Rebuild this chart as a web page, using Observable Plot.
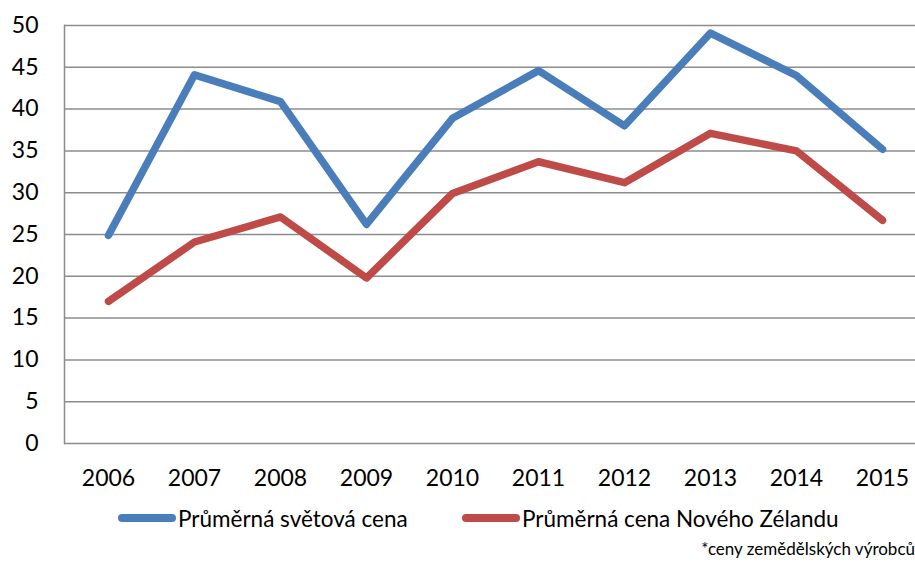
<!DOCTYPE html>
<html>
<head>
<meta charset="utf-8">
<script src="https://cdn.jsdelivr.net/npm/d3@7"></script>
<script src="https://cdn.jsdelivr.net/npm/@observablehq/plot@0.6"></script>
<style>
  html, body { margin: 0; padding: 0; background: #fff; }
  body { width: 915px; height: 568px; position: relative; overflow: hidden; font-family: Lato, "Open Sans", sans-serif; }
  #chart { position: absolute; left: 0; top: 0; }
  .legend { position: absolute; left: 0; top: 503px; width: 915px; height: 30px; font-size: 22.5px; color: #000; }
  .item { position: absolute; top: 0; display: flex; align-items: center; height: 30px; }
  .swatch { width: 58px; height: 8px; border-radius: 4px; margin-right: 2px; }
  .caption { position: absolute; right: 0; top: 537px; font-size: 17px; line-height: 24px; color: #000; }
</style>
</head>
<body>
<div id="chart"></div>
<div class="legend" id="legend"></div>
<div class="caption" id="caption"></div>
<script>
const years = ["2006","2007","2008","2009","2010","2011","2012","2013","2014","2015"];
const worldPrice = [24.9, 44.1, 40.9, 26.2, 38.9, 44.6, 38.0, 49.1, 44.0, 35.2];
const nzPrice = [17.0, 24.1, 27.1, 19.8, 29.9, 33.7, 31.2, 37.1, 35.0, 26.7];
const seriesNames = ["Průměrná světová cena", "Průměrná cena Nového Zélandu"];
const seriesColors = ["#4a7ebb", "#be4b48"];
const yTicks = [0, 5, 10, 15, 20, 25, 30, 35, 40, 45, 50];
const captionText = "*ceny zemědělských výrobců";

const rows = [];
years.forEach((y, i) => {
  rows.push({year: y, value: worldPrice[i], series: seriesNames[0]});
  rows.push({year: y, value: nzPrice[i], series: seriesNames[1]});
});

const chart = Plot.plot({
  width: 915,
  height: 500,
  marginLeft: 64,
  marginRight: 0,
  marginTop: 25,
  marginBottom: 57,
  style: {fontFamily: "Lato, 'Open Sans', sans-serif", fontSize: "23px", color: "#000", background: "#fff"},
  x: {type: "point", domain: years, range: [107, 883], padding: 0},
  y: {domain: [0, 50]},
  color: {domain: seriesNames, range: seriesColors},
  marks: [
    Plot.ruleY(yTicks, {stroke: "#8c8c8c", strokeWidth: 1.5}),
    Plot.frame({anchor: "left", stroke: "#8c8c8c", strokeWidth: 1.5}),
    Plot.axisY(yTicks, {tickSize: 0, tickPadding: 26, fontSize: 23, label: null}),
    Plot.axisX({tickSize: 0, tickPadding: 26, fontSize: 23, label: null}),
    Plot.line(rows, {x: "year", y: "value", z: "series", stroke: "series", strokeWidth: 7.5, strokeLinecap: "round", strokeLinejoin: "round"})
  ]
});
document.getElementById("chart").appendChild(chart);

const legend = document.getElementById("legend");
const positions = [118, 462];
seriesNames.forEach((name, i) => {
  const item = document.createElement("div");
  item.className = "item";
  item.style.left = positions[i] + "px";
  const sw = document.createElement("div");
  sw.className = "swatch";
  sw.style.background = seriesColors[i];
  const tx = document.createElement("span");
  tx.textContent = name;
  item.appendChild(sw);
  item.appendChild(tx);
  legend.appendChild(item);
});
document.getElementById("caption").textContent = captionText;
</script>
</body>
</html>
